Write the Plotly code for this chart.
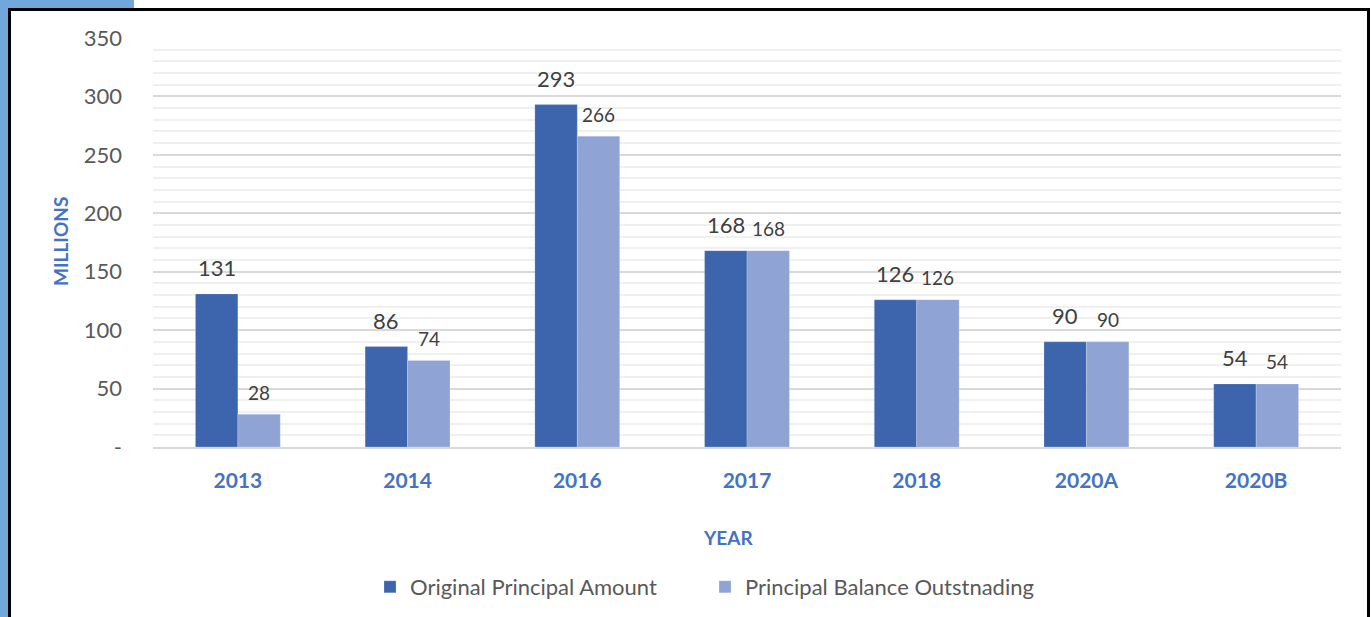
import plotly.graph_objects as go

# Chart data
years = ['2013', '2014', '2016', '2017', '2018', '2020A', '2020B']
original_amount = [131, 86, 293, 168, 126, 90, 54]
balance_outstanding = [28, 74, 266, 168, 126, 90, 54]
y_ticks = [0, 50, 100, 150, 200, 250, 300, 350]
y_tick_text = ['-', '50', '100', '150', '200', '250', '300', '350']

DARK = '#3C65AD'
LIGHT = '#8FA3D4'
BLUE_TEXT = '#4472C4'
FONT = 'Lato'

# Page geometry (pixels)
W, H = 1371, 617
PL, PR, PT, PB = 153, 1341, 38, 447


def px_x(px):
    """pixel x -> paper x"""
    return (px - PL) / (PR - PL)


def px_y(py):
    """pixel y -> paper y"""
    return (PB - py) / (PB - PT)


fig = go.Figure()

fig.add_trace(go.Bar(
    x=years, y=original_amount, name='Original Principal Amount',
    marker=dict(color=DARK, line=dict(color='rgba(255,255,255,0.4)', width=0.5)),
))
fig.add_trace(go.Bar(
    x=years, y=balance_outstanding, name='Principal Balance Outstnading',
    marker=dict(color=LIGHT, line=dict(color='rgba(255,255,255,0.4)', width=0.5)),
))

# Data labels sitting above each bar (x given as category index)
group_px = (PR - PL) / len(years)
bar_px = group_px * 0.5 / 2
for i, (a, b) in enumerate(zip(original_amount, balance_outstanding)):
    fig.add_annotation(x=i, y=a, text=str(a), showarrow=False,
                       xshift=-bar_px / 2, yshift=26,
                       font=dict(family=FONT, size=22, color='#404040'))
    fig.add_annotation(x=i, y=b, text=str(b), showarrow=False,
                       xshift=bar_px / 2, yshift=22,
                       font=dict(family=FONT, size=19, color='#404040'))

# Axis titles
fig.add_annotation(x=px_x(60), y=px_y(242), xref='paper', yref='paper',
                   xanchor='center', yanchor='middle',
                   text='<b>MILLIONS</b>', textangle=-90, showarrow=False,
                   font=dict(family=FONT, size=19, color=BLUE_TEXT))
fig.add_annotation(x=px_x(728), y=px_y(537), xref='paper', yref='paper',
                   xanchor='center', yanchor='middle',
                   text='<b>YEAR</b>', showarrow=False,
                   font=dict(family=FONT, size=19, color=BLUE_TEXT))

# Frame: blue strip on the left, blue tab top-left, black border
fig.add_shape(type='rect', xref='paper', yref='paper',
              x0=px_x(0), x1=px_x(8), y0=px_y(H), y1=px_y(0),
              fillcolor='#72A7DC', line=dict(width=0), layer='below')
fig.add_shape(type='rect', xref='paper', yref='paper',
              x0=px_x(0), x1=px_x(134), y0=px_y(8), y1=px_y(0),
              fillcolor='#72A7DC', line=dict(width=0), layer='below')
fig.add_shape(type='rect', xref='paper', yref='paper',
              x0=px_x(9.5), x1=px_x(1368.5), y0=px_y(H + 20), y1=px_y(9.5),
              line=dict(color='black', width=3), fillcolor='rgba(0,0,0,0)')

fig.update_layout(
    width=W, height=H,
    margin=dict(l=PL, r=W - PR, t=PT, b=H - PB, autoexpand=False),
    paper_bgcolor='white', plot_bgcolor='white',
    barmode='group', bargap=0.5, bargroupgap=0,
    font=dict(family=FONT, color='#595959'),
    showlegend=True,
    legend=dict(orientation='h', x=px_x(370), xanchor='left',
                y=px_y(587), yanchor='middle', entrywidth=290,
                font=dict(family=FONT, size=22, color='#595959')),
    hovermode=False,
)

fig.update_xaxes(
    type='category', range=[-0.5, len(years) - 0.5],
    showline=True, linecolor='#D9D9D9', linewidth=2,
    tickfont=dict(family=FONT, size=21, color=BLUE_TEXT, weight='bold'),
    ticks='', ticklabelstandoff=14,
)
fig.update_yaxes(
    range=[0, 350], tickmode='array', tickvals=y_ticks, ticktext=y_tick_text,
    tickfont=dict(family=FONT, size=22, color='#595959'),
    showgrid=True, gridcolor='#D9D9D9', gridwidth=2,
    minor=dict(dtick=10, tick0=0, showgrid=True, gridcolor='#F0F0F0', gridwidth=2),
    zeroline=False, ticklabelstandoff=30,
)

fig.write_html('out.html', config={'displayModeBar': False},
               post_script="document.body.style.margin = '0px';")
